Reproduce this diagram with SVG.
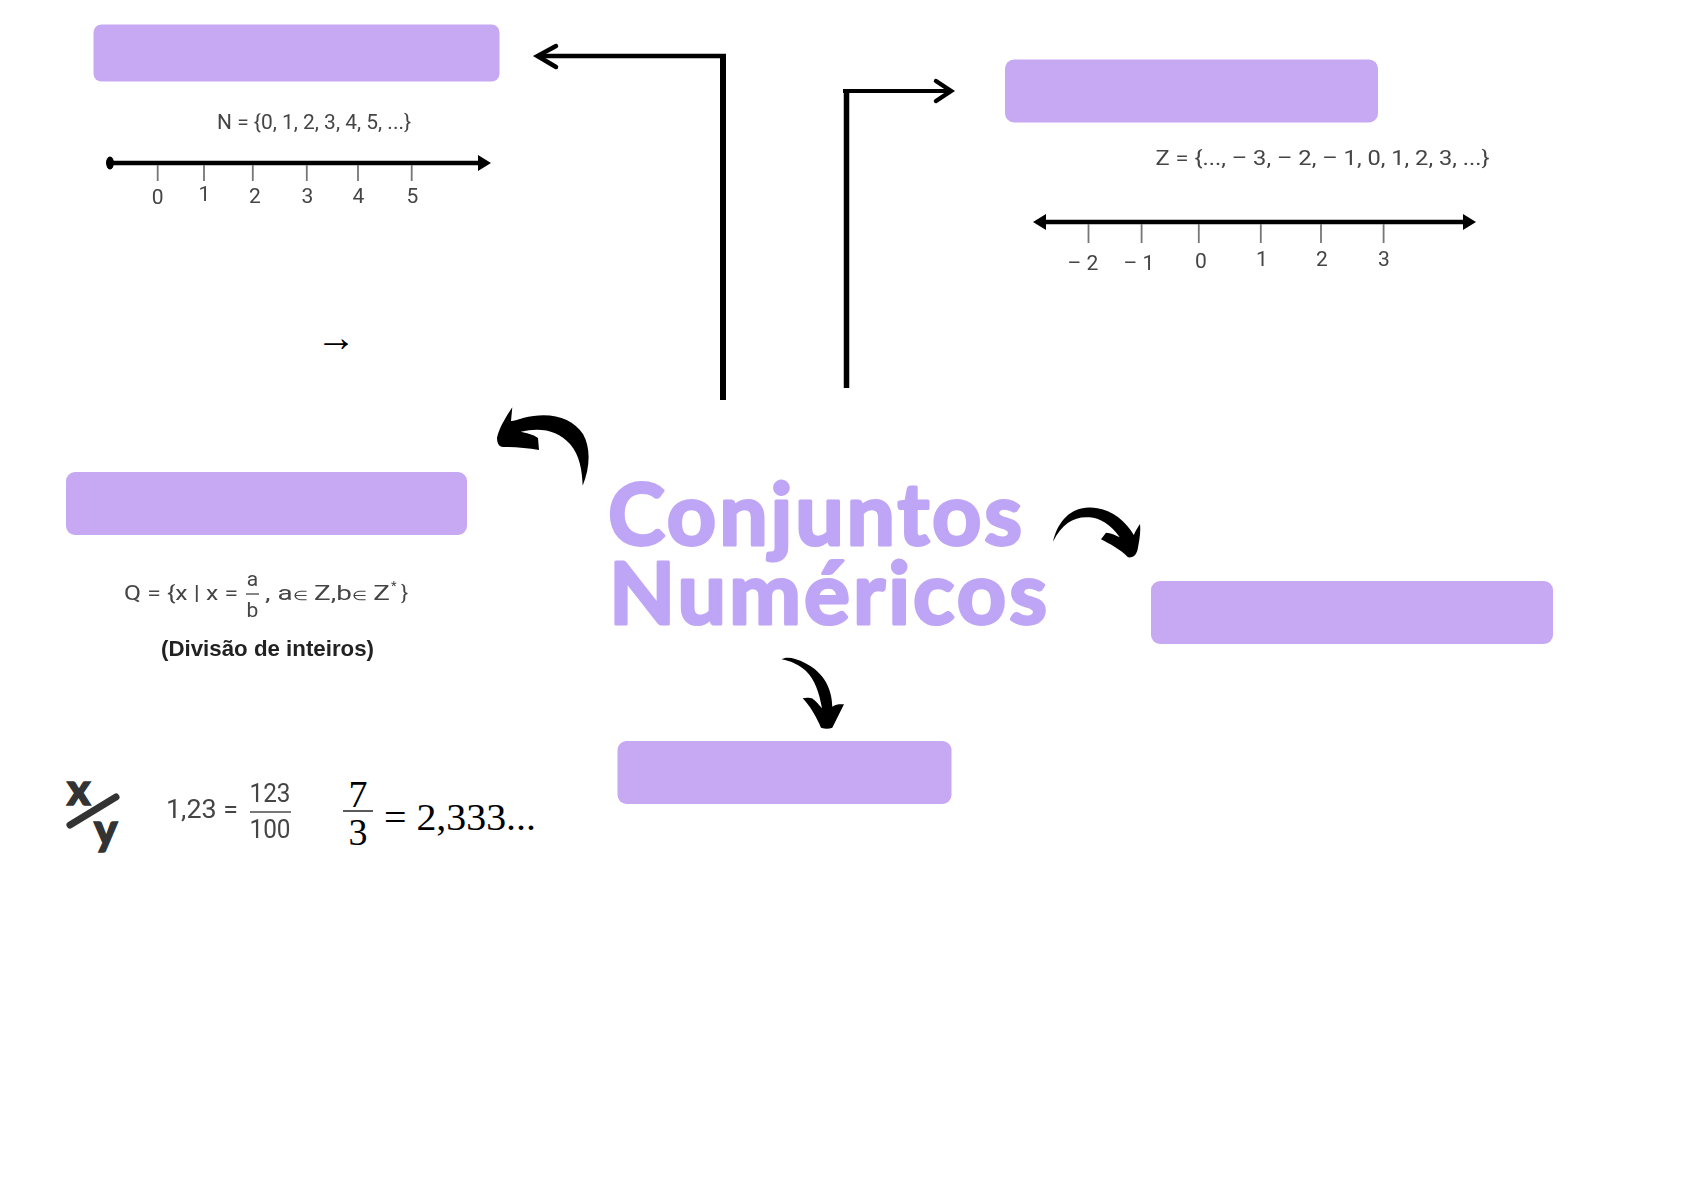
<svg xmlns="http://www.w3.org/2000/svg" width="1684" height="1191" viewBox="0 0 1684 1191">
<style>
.box{fill:#c7a8f2}
.title{font-family:"Lato","Liberation Sans",sans-serif;font-weight:700;font-size:86px;fill:#bea5f5;stroke:#bea5f5;stroke-width:3px;stroke-linejoin:round}
.t{font-family:"Roboto","Liberation Sans",sans-serif;fill:#444;font-size:21px}
.big{font-size:25px}
.small{font-size:13px}
.m{text-anchor:middle}
.s{font-family:"Liberation Serif",serif;fill:#000}
.icon{font-family:"Lato",sans-serif;font-weight:900;font-size:44px;fill:#333;stroke:#333;stroke-width:1.5px}
.conn{fill:none;stroke:#000}
.head{fill:none;stroke:#000;stroke-width:4.5;stroke-linecap:round}
.axis{stroke:#000;stroke-width:4.4;fill:none}
.tick{stroke:#777;stroke-width:1.8}
.curl{fill:#000}
</style>
<defs><filter id="soft" x="-5%" y="-5%" width="110%" height="110%"><feGaussianBlur stdDeviation="0.6"/></filter></defs>
<rect width="1684" height="1191" fill="#fff"/>
<g id="connectors">
<path class="conn" stroke-width="6" d="M723,400V54"/>
<path class="conn" stroke-width="4.5" d="M726,56H538"/>
<path class="head" d="M556,46L537.5,56L556,67"/>
<path class="conn" stroke-width="5.5" d="M846.5,388V89"/>
<path class="conn" stroke-width="4" d="M843,91H951"/>
<path class="head" d="M936,81L951,91L936,101"/>
<path class="curl" d="M582.7,485.7C590,468 591,448 583,434C572,417 549,411 523,418C517,420 514,421 511,421L512.3,407.3C506,417 499,428 497,438C497,443 499,447 503,447C515,447 527,448 539,450L538,438C533,434 526,433 520.7,431.7C540,427 558,430 570,444C580,456 582,470 582.7,485.7Z"/>
<path class="curl" d="M1053,541.7C1058,520 1072,507 1090,507.5C1110,508 1125,520 1133.8,535C1136,530 1138,527 1140,524C1141,533 1139,542 1137.5,550C1136,556 1132,558 1128,557.3C1120,549 1110,544 1101,539.3L1106,532.7C1111,533 1115,535 1119.8,537.3C1110,524 1100,518 1089.4,517.3C1075,516 1062,523 1053,541.7Z"/>
<path class="curl" d="M781.6,659.3C786,656 796,658 805,663C825,673 832,690 832.3,706.7C836,704 840,704 844,704.3L832.3,727.7C829,729 825,729 821,727.7C816,716 810,706 802.7,698.3C807,697 811,698 812,698.3C816,701 819,705 822,708.3C819,692 815,680 806,671C799,665 791,661 781.6,659.3Z"/>
</g>
<g id="node-naturais">
<rect class="box" x="93.5" y="24.5" width="406" height="57" rx="8"/>
<g filter="url(#soft)">
<text class="t" x="217" y="129" textLength="194" lengthAdjust="spacingAndGlyphs">N = {0, 1, 2, 3, 4, 5, ...}</text>
<path class="axis" d="M108,163H481"/>
<path d="M478,155L491,163L478,171Z"/>
<ellipse cx="110" cy="163" rx="4" ry="6.5"/>
<path class="tick" d="M157.7,165V181M204,165V181M252.8,165V181M306.8,165V181M358,165V181M411.7,165V181"/>
<text class="t m" x="157.7" y="204">0</text>
<text class="t m" x="204.5" y="201">1</text>
<text class="t m" x="255" y="203">2</text>
<text class="t m" x="307.5" y="203">3</text>
<text class="t m" x="358.5" y="203">4</text>
<text class="t m" x="412.5" y="203">5</text>
</g>
<text class="s" x="316" y="351" font-size="40">→</text>
</g>
<g id="node-inteiros">
<rect class="box" x="1005" y="59.5" width="373" height="63" rx="9"/>
<g filter="url(#soft)">
<text class="t" x="1155.5" y="165" textLength="334" lengthAdjust="spacingAndGlyphs">Z = {..., – 3, – 2, – 1, 0, 1, 2, 3, ...}</text>
<path class="axis" d="M1044,222H1466"/>
<path d="M1046,214L1033,222L1046,230Z"/>
<path d="M1463,214L1476,222L1463,230Z"/>
<path class="tick" d="M1088.5,224V243M1141.6,224V243M1198.8,224V243M1260.8,224V243M1321,224V243M1383.6,224V243"/>
<text class="t m" x="1083" y="270">– 2</text>
<text class="t m" x="1139" y="270">– 1</text>
<text class="t m" x="1201" y="268">0</text>
<text class="t m" x="1262" y="266">1</text>
<text class="t m" x="1322" y="266">2</text>
<text class="t m" x="1384" y="266">3</text>
</g>
</g>
<g id="node-racionais">
<rect class="box" x="66" y="472" width="401" height="63" rx="9"/>
<g filter="url(#soft)">
<text class="t" x="124" y="600" textLength="114" lengthAdjust="spacingAndGlyphs">Q = {x | x =</text>
<text class="t m" x="252.5" y="586">a</text>
<path class="tick" d="M246,594H259"/>
<text class="t m" x="252.5" y="617">b</text>
<text class="t" x="265" y="600" textLength="125" lengthAdjust="spacingAndGlyphs">, a<tspan class="small">∈</tspan> Z,b<tspan class="small">∈</tspan> Z</text>
<text class="t small" x="391" y="590">*</text>
<text class="t" x="401" y="600">}</text>
<text x="161" y="656" font-family="Liberation Sans,sans-serif" font-weight="700" font-size="22" fill="#222" textLength="213" lengthAdjust="spacingAndGlyphs">(Divisão de inteiros)</text>
</g>
</g>
<g id="node-exemplos">
<text class="icon" x="67" y="805">x</text>
<path d="M70,825L116,797" stroke="#333" stroke-width="7" stroke-linecap="round"/>
<text class="icon" x="94" y="845">y</text>
<g filter="url(#soft)">
<text class="t big" x="166" y="818" textLength="72" lengthAdjust="spacingAndGlyphs">1,23 =</text>
<text class="t big m" x="270" y="802" textLength="41" lengthAdjust="spacingAndGlyphs">123</text>
<path d="M250,812H291" stroke="#777" stroke-width="1.8"/>
<text class="t big m" x="270" y="838" textLength="41" lengthAdjust="spacingAndGlyphs">100</text>
</g>
<text class="s m" x="358" y="807" font-size="38">7</text>
<path d="M343,811H373" stroke="#000" stroke-width="1.3"/>
<text class="s m" x="358" y="845" font-size="38">3</text>
<text class="s" x="384" y="830" font-size="38" textLength="152" lengthAdjust="spacingAndGlyphs">= 2,333...</text>
</g>
<g id="node-titulo">
<text class="title" x="608" y="545" textLength="414" lengthAdjust="spacing">Conjuntos</text>
<text class="title" x="609" y="624" textLength="438" lengthAdjust="spacing">Numéricos</text>
</g>
<g id="node-irracionais"><rect class="box" x="1151" y="581" width="402" height="63" rx="9"/></g>
<g id="node-reais"><rect class="box" x="617.5" y="741" width="334" height="63" rx="9"/></g>
</svg>
